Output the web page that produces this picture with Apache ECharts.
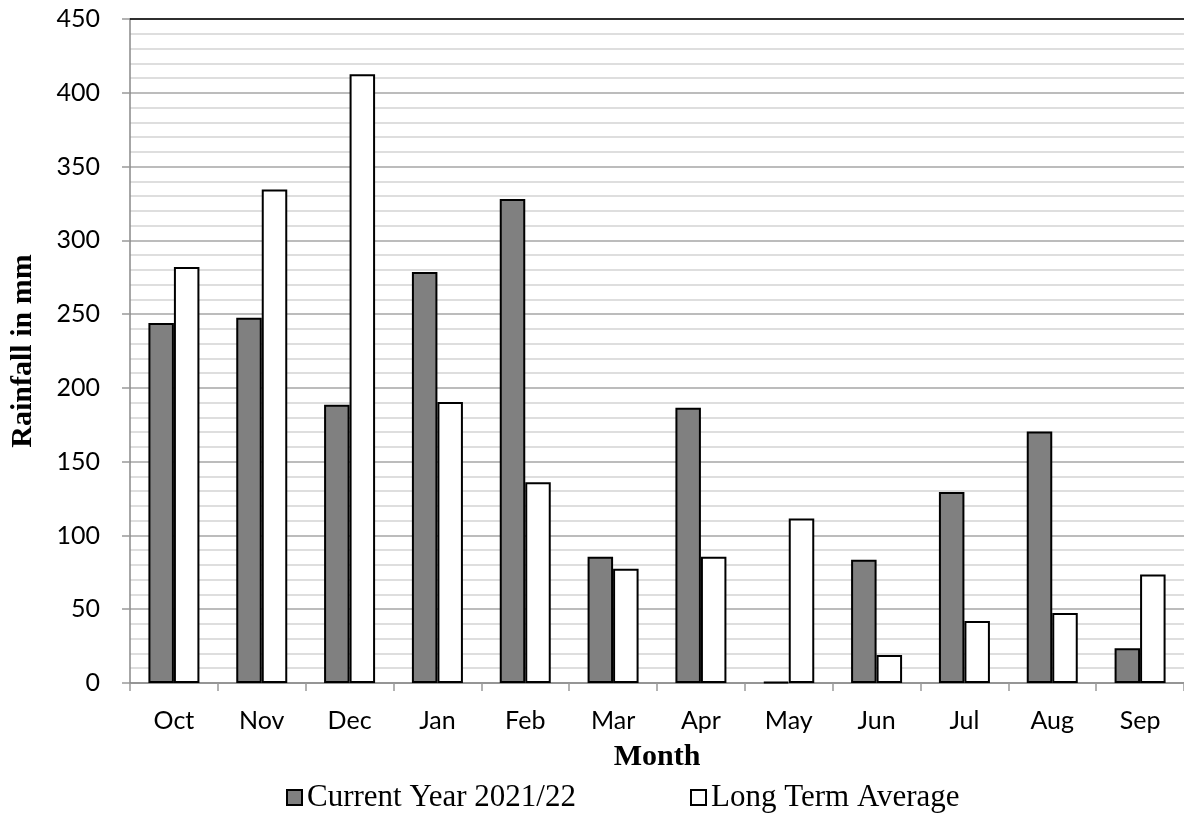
<!DOCTYPE html>
<html>
<head>
<meta charset="utf-8">
<script src="https://cdn.jsdelivr.net/npm/echarts@6/dist/echarts.min.js"></script>
<style>html,body{margin:0;padding:0;background:#fff}#c{width:1184px;height:817px}</style>
</head>
<body>
<div id="c"></div>
<script>
const categories = ['Oct','Nov','Dec','Jan','Feb','Mar','Apr','May','Jun','Jul','Aug','Sep'];
const currentYear = [244, 247.5, 188.5, 278.5, 328, 85.5, 186.5, 0.7, 83.5, 129.5, 170.5, 23.5];
const longTermAverage = [282, 334.5, 412.5, 190.5, 136, 77.5, 85.5, 111.5, 19, 42, 47.5, 73.5];
const seriesNames = ['Current Year 2021/22', 'Long Term Average'];

const legendText = {fontFamily: 'Liberation Serif', fontSize: 31, color: '#000', padding: [0,0,0,0]};
const chart = echarts.init(document.getElementById('c'), null, {renderer: 'canvas'});
chart.setOption({
  animation: false,
  backgroundColor: '#fff',
  grid: {left: 130, top: 19, width: 1057, height: 664, containLabel: false},
  legend: [{
    left: 286, top: 782, padding: 0, itemWidth: 15, itemHeight: 15,
    icon: 'rect', textStyle: legendText, data: [seriesNames[0]]
  }, {
    left: 690, top: 782, padding: 0, itemWidth: 15, itemHeight: 15,
    icon: 'rect', textStyle: legendText, data: [seriesNames[1]]
  }],
  xAxis: [{
    type: 'category', data: categories,
    name: 'Month', nameLocation: 'middle', nameGap: 59,
    nameTextStyle: {fontFamily: 'Liberation Serif', fontWeight: 'bold', fontSize: 30, color: '#000'},
    axisLine: {lineStyle: {color: '#888', width: 1.5}},
    axisTick: {show: true, length: 8, lineStyle: {color: '#999', width: 1.5}},
    axisLabel: {fontFamily: 'Lato', fontSize: 25, color: '#000', margin: 25}
  }, {
    type: 'category', data: categories, position: 'top',
    axisLine: {lineStyle: {color: '#000', width: 1.5}},
    axisTick: {show: false}, axisLabel: {show: false}
  }],
  yAxis: {
    type: 'value', min: 0, max: 450, interval: 50,
    name: 'Rainfall in mm', nameLocation: 'middle', nameGap: 92,
    nameTextStyle: {fontFamily: 'Liberation Serif', fontWeight: 'bold', fontSize: 30, color: '#000'},
    axisLine: {show: true, lineStyle: {color: '#888', width: 1.5}},
    axisTick: {show: true, length: 8, lineStyle: {color: '#999', width: 1.5}},
    axisLabel: {fontFamily: 'Lato', fontSize: 25, color: '#000', margin: 30},
    splitLine: {show: true, lineStyle: {color: '#a6a6a6', width: 1.5}},
    minorTick: {show: false, splitNumber: 5},
    minorSplitLine: {show: true, lineStyle: {color: '#d4d4d4', width: 1.5}}
  },
  series: [{
    name: seriesNames[0], type: 'bar', data: currentYear,
    barWidth: 25.5, barGap: '0%',
    itemStyle: {color: '#808080', borderColor: '#000', borderWidth: 2}
  }, {
    name: seriesNames[1], type: 'bar', data: longTermAverage,
    barWidth: 25.5, barGap: '0%',
    itemStyle: {color: '#fff', borderColor: '#000', borderWidth: 2}
  }]
});
</script>
</body>
</html>
